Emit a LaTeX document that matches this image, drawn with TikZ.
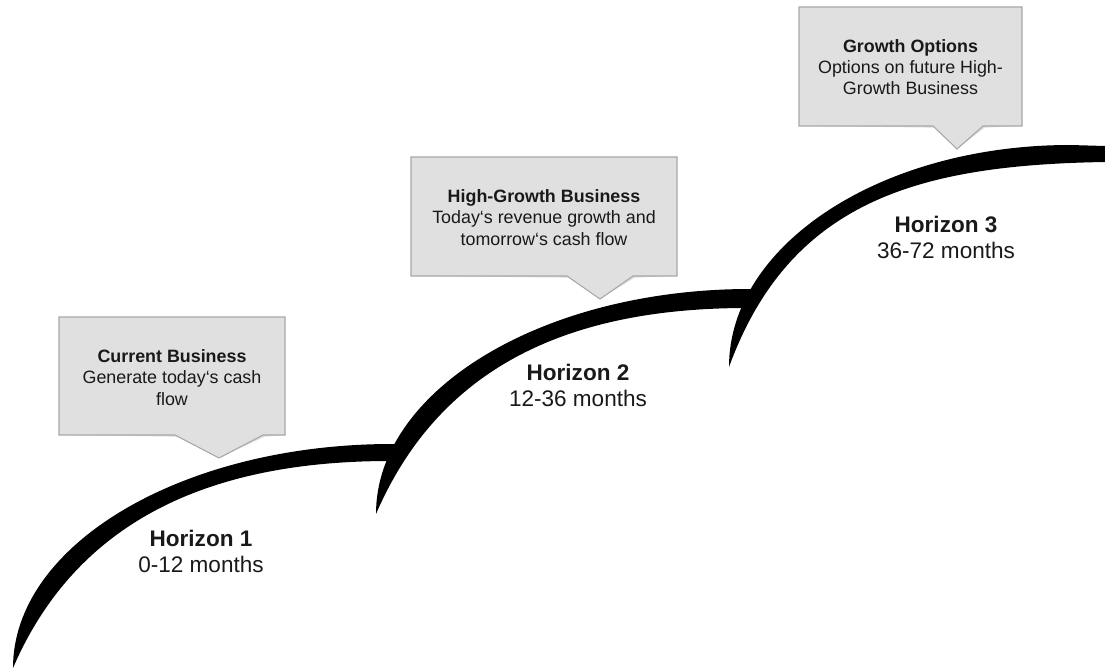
\documentclass[tikz,border=0pt]{standalone}
\usepackage{fontspec}
\setmainfont{Liberation Sans}
\usetikzlibrary{calc}

\definecolor{boxfill}{RGB}{224,224,224}
\definecolor{boxline}{RGB}{168,168,168}
\definecolor{boxshade}{RGB}{150,150,150}
\definecolor{inktext}{RGB}{25,25,25}

\tikzset{
  swoosh/.style={fill=black},
  callout/.style={fill=boxfill, draw=boxline, line width=0.8pt, line join=miter},
  calloutshadow/.style={fill=boxshade, opacity=0.35},
  boxframe/.style={inner sep=0pt, outer sep=0pt},
  calltext/.style={align=center, text=inktext, inner sep=0pt,
    font=\fontsize{13.4}{16}\selectfont},
  horizon/.style={align=center, text=inktext, inner sep=0pt,
    font=\fontsize{16.9}{19.5}\selectfont}
}

\begin{document}
\begin{tikzpicture}[x=0.75pt, y=-0.75pt]
\useasboundingbox (0,0) rectangle (1105,670);

% ---- brush-stroke steps (outer edge is a quarter ellipse) ----
\fill[swoosh] (13,668) .. controls (13,544.3) and (182.7,444) .. (392,444)
  -- (398,444) -- (390,461)
  .. controls (218,461) and (79,515) .. (13,668) -- cycle;
\fill[swoosh] (376,514) .. controls (376,389.7) and (543.4,289) .. (750,289)
  -- (756,289) -- (747,308)
  .. controls (577,308) and (442,361) .. (376,514) -- cycle;
\fill[swoosh] (729,367) .. controls (729,244.4) and (881.7,145) .. (1070,145)
  -- (1105,146) -- (1105,162)
  .. controls (920,165) and (790,200) .. (729,367) -- cycle;

% ---- callout frames ----
\node[boxframe, minimum width=169.5pt, minimum height=88.5pt] (c1) at (172,376) {};
\node[boxframe, minimum width=199.5pt, minimum height=89.25pt] (c2) at (544,216.5) {};
\node[boxframe, minimum width=167.25pt, minimum height=89.25pt] (c3) at (910.5,66.5) {};
\coordinate (tip1) at (219,458);
\coordinate (tip2) at (600,299);
\coordinate (tip3) at (957,149);

\begin{scope}[xshift=1.2pt, yshift=-1.2pt]
  \fill[calloutshadow] (c1.north west) -- (c1.north east) -- (c1.south east)
    -- (263,435) -- (tip1) -- (175,435) -- (c1.south west) -- cycle;
  \fill[calloutshadow] (c2.north west) -- (c2.north east) -- (c2.south east)
    -- (633,276) -- (tip2) -- (567,276) -- (c2.south west) -- cycle;
  \fill[calloutshadow] (c3.north west) -- (c3.north east) -- (c3.south east)
    -- (983,126) -- (tip3) -- (933,126) -- (c3.south west) -- cycle;
\end{scope}

\draw[callout] (c1.north west) -- (c1.north east) -- (c1.south east)
  -- (263,435) -- (tip1) -- (175,435) -- (c1.south west) -- cycle;
\draw[callout] (c2.north west) -- (c2.north east) -- (c2.south east)
  -- (633,276) -- (tip2) -- (567,276) -- (c2.south west) -- cycle;
\draw[callout] (c3.north west) -- (c3.north east) -- (c3.south east)
  -- (983,126) -- (tip3) -- (933,126) -- (c3.south west) -- cycle;

% ---- callout texts (anchored at the baseline of the last line) ----
\node[calltext, anchor=base] (t1) at (172,405)
  {\textbf{Current Business}\\Generate today‘s cash\\flow};
\node[calltext, anchor=base] (t2) at (544,245)
  {\textbf{High-Growth Business}\\Today‘s revenue growth and\\tomorrow‘s cash flow};
\node[calltext, anchor=base] (t3) at (910.5,95)
  {\textbf{Growth Options}\\Options on future High-\\Growth Business};

% ---- horizon labels ----
\node[horizon, anchor=base] (h1) at (201,572.7) {\textbf{Horizon 1}\\0-12 months};
\node[horizon, anchor=base] (h2) at (578,406.7) {\textbf{Horizon 2}\\12-36 months};
\node[horizon, anchor=base] (h3) at (946,258.3) {\textbf{Horizon 3}\\36-72 months};
\end{tikzpicture}
\end{document}
